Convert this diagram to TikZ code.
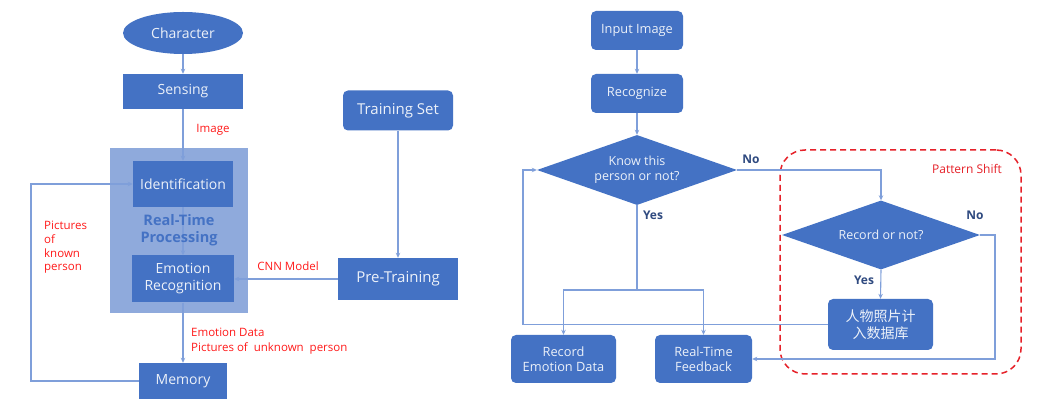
\documentclass[tikz,border=0pt]{standalone}
\usepackage{fontspec}
\setmainfont{Open Sans}
\newfontfamily\cjk{Noto Sans CJK SC}
\usetikzlibrary{shapes.geometric,arrows.meta}
\definecolor{boxblue}{HTML}{4472C4}
\definecolor{panelblue}{HTML}{8FAADC}
\definecolor{linec}{HTML}{7F9FDA}
\definecolor{ynblue}{HTML}{2F4A80}
\definecolor{lblred}{HTML}{FF1A1A}
\definecolor{dashred}{HTML}{E62129}
\tikzset{
  box/.style={fill=boxblue, text=white!90!boxblue, inner sep=0pt, align=center,
    font=\fontsize{14}{17}\selectfont},
  rbox/.style={box, rounded corners=5pt, font=\fontsize{12.8}{15.5}\selectfont},
  dec/.style={diamond, box, aspect=2.86, font=\fontsize{12.5}{15.5}\selectfont},
  conn/.style={draw=linec, line width=1.1pt},
  arr/.style={conn, -{Stealth[length=5pt,width=4.5pt]}},
  redlbl/.style={text=lblred, font=\fontsize{11.5}{14}\selectfont, align=left, inner sep=0pt},
  ynlbl/.style={text=ynblue, font=\bfseries\fontsize{12}{14}\selectfont, inner sep=0pt}
}
\begin{document}
\begin{tikzpicture}[x=1pt,y=-1pt]
\fill[white] (0,0) rectangle (1061,419);
\useasboundingbox (0,0) rectangle (1061,419);

% ---------- left part ----------
\node[fill=panelblue, minimum width=138pt, minimum height=165pt, inner sep=0pt] (rtp) at (179,230.5) {};
\node[ellipse, box, minimum width=120pt, minimum height=42pt] (char) at (183,33) {Character};
\node[box, minimum width=120pt, minimum height=35pt] (sens) at (183,91.5) {Sensing};
\node[box, minimum width=100pt, minimum height=46pt] (ident) at (183,184) {Identification};
\node[box, minimum width=102pt, minimum height=47pt] (emo) at (183,279) {Emotion\\Recognition};
\node[box, minimum width=88pt, minimum height=36pt] (mem) at (183,381) {Memory};
\node[rbox, minimum width=110pt, minimum height=40pt, font=\fontsize{15}{17}\selectfont] (tset) at (398,110.5) {Training Set};
\node[box, minimum width=120pt, minimum height=42pt, font=\fontsize{15}{17}\selectfont] (pre) at (398,279) {Pre-Training};

\coordinate (lx) at (31,0);
\draw[arr] (char) -- (sens);
\draw[arr] (sens) -- (ident);
\draw[arr] (ident) -- (emo);
\draw[arr] (emo) -- (mem);
\draw[arr] (tset) -- (pre);
\draw[arr] (pre) -- (emo);
\draw[arr] (mem.west) -- (mem.west -| lx) |- (ident.west);

\node[text=boxblue, font=\bfseries\fontsize{14.5}{17}\selectfont, align=center, inner sep=0pt] (rtpl) at (179,230.5) {Real-Time\\Processing};

\node[redlbl] (limg) at (213,130) {Image};
\node[redlbl] (lcnn) at (288,266) {CNN Model};
\node[redlbl, anchor=west, font=\fontsize{11.5}{15}\selectfont] (lemo) at (191,341.5) {Emotion Data\\Pictures of\ \ unknown\ \ person};
\node[redlbl, anchor=west, font=\fontsize{11.5}{13.7}\selectfont] (lpic) at (44,247.5) {Pictures\\of\\known\\person};

% ---------- right part ----------
\node[draw=dashred, dashed, dash pattern=on 6pt off 4pt, line width=1.5pt, rounded corners=25pt,
  minimum width=241pt, minimum height=224pt, inner sep=0pt] (psbox) at (900.5,262) {};
\node[text=dashred, font=\fontsize{12}{14}\selectfont, inner sep=0pt] (ps) at (967,169) {Pattern Shift};

\node[rbox, minimum width=92pt, minimum height=39pt] (inp) at (637,30.5) {Input Image};
\node[rbox, minimum width=92pt, minimum height=39pt] (recg) at (637,93.5) {Recognize};
\node[dec, minimum width=200pt, minimum height=70pt] (know) at (637,170) {Know this\\person or not?};
\node[dec, minimum width=198pt, minimum height=69pt] (rec) at (881,235) {Record or not?};
\node[rbox, minimum width=105pt, minimum height=51pt, font=\cjk\fontsize{14}{17}\selectfont] (db) at (880.5,324.5) {人物照片计\\入数据库};
\node[rbox, minimum width=105pt, minimum height=48pt] (remo) at (563.5,359) {Record\\Emotion Data};
\node[rbox, minimum width=97pt, minimum height=48pt] (fb) at (703.5,359) {Real-Time\\Feedback};

\coordinate (yj) at (637,290);
\coordinate (lpx) at (523,0);
\coordinate (nox) at (995,0);
\draw[arr] (inp) -- (recg);
\draw[arr] (recg) -- (know.north);
\draw[arr] (know.east) -| (rec.north);
\draw[arr] (rec.south) -- (db.north);
\draw[conn] (know.south) -- (yj);
\draw[arr] (yj) -| (remo.north);
\draw[arr] (yj) -| (fb.north);
\draw[arr] (db.west) -- (db.west -| lpx) |- (know.west);
\draw[arr] (rec.east) -- (rec.east -| nox) |- (fb.east);

\node[ynlbl] (kno) at (751,159) {No};
\node[ynlbl] (kyes) at (653,215) {Yes};
\node[ynlbl] (rno) at (975,215) {No};
\node[ynlbl] (ryes) at (864,280) {Yes};
\end{tikzpicture}
\end{document}
